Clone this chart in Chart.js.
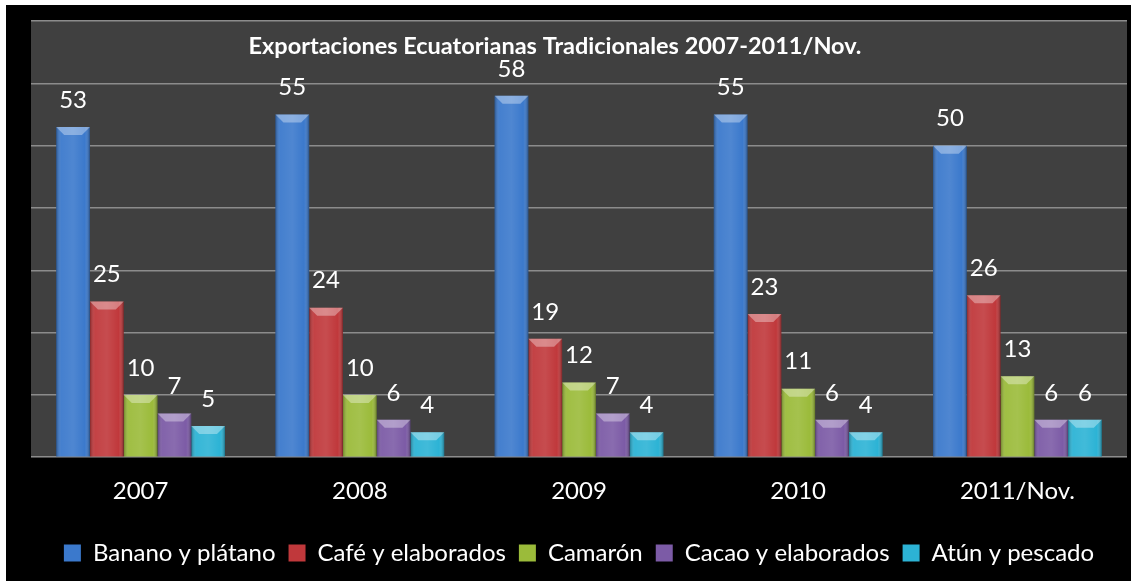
<!DOCTYPE html>
<html>
<head>
<meta charset="utf-8">
<script src="https://cdn.jsdelivr.net/npm/chart.js@4"></script>
<style>
  html, body { margin: 0; padding: 0; background: #fff; }
  #wrap { position: absolute; left: 6px; top: 5px; width: 1125px; height: 576px; background: #000; }
</style>
</head>
<body>
<div id="wrap"><canvas id="chart" width="1125" height="576"></canvas></div>
<script>
var years = ['2007', '2008', '2009', '2010', '2011/Nov.'];
var banano = [53, 55, 58, 55, 50];
var cafe = [25, 24, 19, 23, 26];
var camaron = [10, 10, 12, 11, 13];
var cacao = [7, 6, 7, 6, 6];
var atun = [5, 4, 4, 4, 6];
var seriesNames = ['Banano y plátano', 'Café y elaborados', 'Camarón', 'Cacao y elaborados', 'Atún y pescado'];
var seriesColors = ['#3b79cc', '#c0383b', '#9bbb3a', '#7c5ba6', '#2cb3d5'];
var titulo = 'Exportaciones Ecuatorianas Tradicionales 2007-2011/Nov.';

var FONT = 'Lato, "Liberation Sans", sans-serif';

// fondo del area de trazado y titulo
var fondo = {
    id: 'fondo',
    beforeDraw: function(chart){
        var a = chart.chartArea, ctx = chart.ctx;
        ctx.save();
        ctx.fillStyle = '#404040';
        ctx.fillRect(a.left, a.top, a.right - a.left, a.bottom - a.top);
        ctx.restore();
    },
    afterDraw: function(chart){
        var ctx = chart.ctx;
        ctx.save();
        ctx.fillStyle = '#ffffff';
        ctx.font = 'bold 23.5px ' + FONT;
        ctx.textAlign = 'center';
        ctx.textBaseline = 'middle';
        ctx.fillText(titulo, 549, 41);
        ctx.restore();
    }
};

// efecto bisel y etiquetas de valores
var bisel = {
    id: 'bisel',
    afterDatasetsDraw: function(chart){
        var ctx = chart.ctx;
        chart.data.datasets.forEach(function(ds, i){
            var meta = chart.getDatasetMeta(i);
            meta.data.forEach(function(bar, j){
                var w = bar.width, x0 = bar.x - w / 2, x1 = bar.x + w / 2;
                var top = bar.y, bottom = bar.base;
                ctx.save();
                var g = ctx.createLinearGradient(x0, 0, x1, 0);
                g.addColorStop(0, 'rgba(0,0,0,0.30)');
                g.addColorStop(0.15, 'rgba(255,255,255,0.05)');
                g.addColorStop(0.5, 'rgba(255,255,255,0.10)');
                g.addColorStop(0.85, 'rgba(255,255,255,0.0)');
                g.addColorStop(1, 'rgba(0,0,0,0.35)');
                ctx.fillStyle = g;
                ctx.fillRect(x0, top, w, bottom - top);
                var b = Math.min(8, (bottom - top) / 2);
                ctx.beginPath();
                ctx.moveTo(x0, top);
                ctx.lineTo(x1, top);
                ctx.lineTo(x1 - b, top + b);
                ctx.lineTo(x0 + b, top + b);
                ctx.closePath();
                ctx.fillStyle = 'rgba(255,255,255,0.35)';
                ctx.fill();
                ctx.restore();

                ctx.save();
                ctx.fillStyle = '#ffffff';
                ctx.font = '24px ' + FONT;
                ctx.textAlign = 'center';
                ctx.textBaseline = 'middle';
                ctx.fillText(ds.data[j], bar.x, top - 27);
                ctx.restore();
            });
        });
    }
};

var ctx = document.getElementById('chart').getContext('2d');
var chart = new Chart(ctx, {
    type: 'bar',
    data: {
        labels: years,
        datasets: [banano, cafe, camaron, cacao, atun].map(function(d, i){
            return {
                label: seriesNames[i],
                data: d,
                backgroundColor: seriesColors[i],
                borderWidth: 0,
                categoryPercentage: 0.77,
                barPercentage: 1.0
            };
        })
    },
    options: {
        responsive: false,
        animation: false,
        layout: { padding: { left: 25, right: 4, top: 16, bottom: 6 } },
        plugins: {
            title: { display: false },
            tooltip: { enabled: false },
            legend: {
                position: 'bottom',
                labels: {
                    color: '#ffffff',
                    font: { family: FONT, size: 24 },
                    boxWidth: 17,
                    boxHeight: 17,
                    padding: 13
                }
            }
        },
        scales: {
            x: {
                grid: { display: false },
                border: { display: false },
                ticks: { color: '#ffffff', font: { family: FONT, size: 24 }, padding: 12 },
                afterFit: function(scale){ scale.height += 10; }
            },
            y: {
                min: 0,
                max: 70,
                ticks: { display: false, stepSize: 10 },
                grid: { color: '#8c8c8c', lineWidth: 1.5, drawTicks: false },
                border: { display: false }
            }
        }
    },
    plugins: [fondo, bisel]
});
</script>
</body>
</html>
